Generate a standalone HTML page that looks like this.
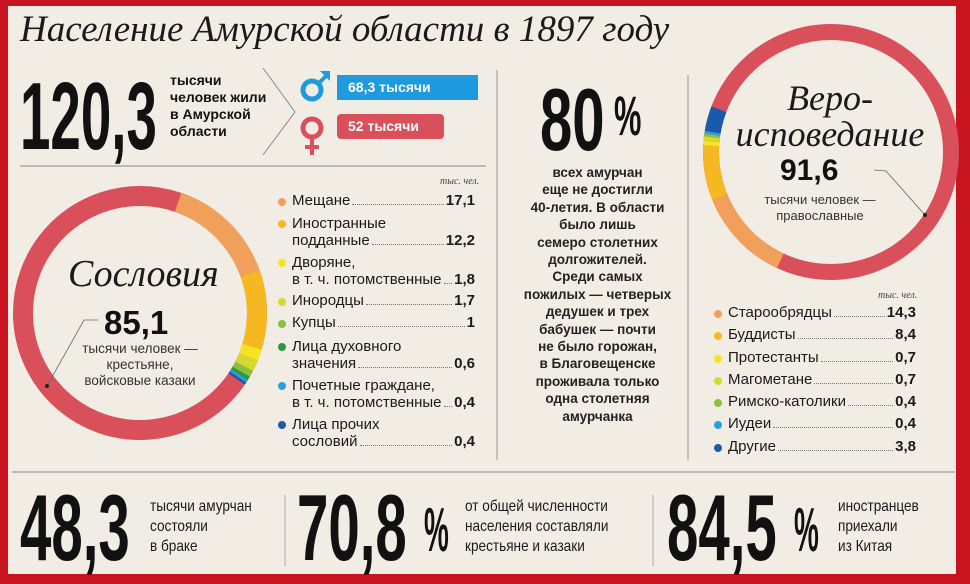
<!DOCTYPE html>
<html><head><meta charset="utf-8"><style>
*{margin:0;padding:0;box-sizing:border-box}
body{width:970px;height:584px;overflow:hidden;background:#c8141e;font-family:"Liberation Sans",sans-serif;color:#111}
#p{position:absolute;left:8px;top:6px;width:948px;height:568px;background:#f2ede4}
.a{position:absolute;white-space:nowrap}
.big{font-weight:bold;transform-origin:0 0;line-height:1}
.ser{font-family:"Liberation Serif",serif;font-style:italic;color:#1a1a1a}
.t{font-weight:bold;font-size:14px;line-height:17px}
.lg{position:absolute;font-size:15px;line-height:17px;color:#1a1a1a}
.lg .d{position:absolute;width:8px;height:8px;border-radius:50%;left:-14px;top:5px}
.row{position:absolute;display:flex;align-items:baseline;font-size:15px;color:#1a1a1a}
.dots{flex:1;border-bottom:1px dotted #777;margin:0 2px;height:1px}
.v{font-weight:bold}
.bt{position:absolute;font-size:16px;line-height:20px;transform:scaleX(.85);transform-origin:0 0;color:#1a1a1a}
</style></head><body>
<div id="p"></div>
<svg class="a" style="left:0;top:0" width="970" height="584">
<line x1="20" y1="166" x2="486" y2="166" stroke="#888" stroke-width="1"/>
<line x1="497" y1="70" x2="497" y2="460" stroke="#999" stroke-width="1"/>
<line x1="688" y1="75" x2="688" y2="460" stroke="#999" stroke-width="1"/>
<line x1="12" y1="472" x2="955" y2="472" stroke="#888" stroke-width="1"/>
<line x1="285" y1="495" x2="285" y2="566" stroke="#aaa"/>
<line x1="653" y1="495" x2="653" y2="566" stroke="#aaa"/>
<polyline points="263,68 295,112 263,155" fill="none" stroke="#888"/>
<g transform="rotate(-71 140 313)" fill="none" stroke-width="20">
<circle cx="140" cy="313" r="117" pathLength="120.3" stroke="#d9505a"/>
<circle cx="140" cy="313" r="117" pathLength="120.3" stroke="#f0a05a" stroke-dasharray="17.1 200"/>
<circle cx="140" cy="313" r="117" pathLength="120.3" stroke="#f5b820" stroke-dasharray="0 17.1 12.2 200"/>
<circle cx="140" cy="313" r="117" pathLength="120.3" stroke="#f5e420" stroke-dasharray="0 29.3 1.8 200"/>
<circle cx="140" cy="313" r="117" pathLength="120.3" stroke="#d4d830" stroke-dasharray="0 31.1 1.7 200"/>
<circle cx="140" cy="313" r="117" pathLength="120.3" stroke="#88c040" stroke-dasharray="0 32.8 1 200"/>
<circle cx="140" cy="313" r="117" pathLength="120.3" stroke="#2a9a40" stroke-dasharray="0 33.8 0.6 200"/>
<circle cx="140" cy="313" r="117" pathLength="120.3" stroke="#2aa0e0" stroke-dasharray="0 34.4 0.4 200"/>
<circle cx="140" cy="313" r="117" pathLength="120.3" stroke="#1a5aaa" stroke-dasharray="0 34.8 0.4 200"/>
</g>
<polyline points="98,320 84,320 47,386" fill="none" stroke="#666" stroke-width="0.8"/>
<circle cx="47" cy="386" r="2" fill="#222"/>
<g transform="rotate(115 831 152)" fill="none" stroke-width="16">
<circle cx="831" cy="152" r="120" pathLength="120.3" stroke="#d9505a"/>
<circle cx="831" cy="152" r="120" pathLength="120.3" stroke="#f0a05a" stroke-dasharray="14.3 200"/>
<circle cx="831" cy="152" r="120" pathLength="120.3" stroke="#f5b820" stroke-dasharray="0 14.3 8.4 200"/>
<circle cx="831" cy="152" r="120" pathLength="120.3" stroke="#f5e420" stroke-dasharray="0 22.7 0.7 200"/>
<circle cx="831" cy="152" r="120" pathLength="120.3" stroke="#d4d830" stroke-dasharray="0 23.4 0.7 200"/>
<circle cx="831" cy="152" r="120" pathLength="120.3" stroke="#88c040" stroke-dasharray="0 24.1 0.4 200"/>
<circle cx="831" cy="152" r="120" pathLength="120.3" stroke="#2aa0e0" stroke-dasharray="0 24.5 0.4 200"/>
<circle cx="831" cy="152" r="120" pathLength="120.3" stroke="#1a5aaa" stroke-dasharray="0 24.9 3.8 200"/>
</g>
<polyline points="874,170 886,171 925,215" fill="none" stroke="#666" stroke-width="0.8"/>
<circle cx="925" cy="215" r="2" fill="#222"/>
<circle cx="312" cy="90" r="9" fill="none" stroke="#1e9ae0" stroke-width="5"/>
<line x1="318" y1="84" x2="327" y2="75" stroke="#1e9ae0" stroke-width="4"/>
<polygon points="320,71 330,71 330,81" fill="#1e9ae0"/>
<rect x="337" y="75" width="141" height="25" fill="#1e9ae0"/>
<circle cx="312" cy="128" r="9" fill="none" stroke="#d9505a" stroke-width="5"/>
<line x1="312" y1="138" x2="312" y2="155" stroke="#d9505a" stroke-width="4"/>
<line x1="305" y1="147" x2="319" y2="147" stroke="#d9505a" stroke-width="4"/>
<rect x="337" y="114" width="107" height="25" rx="4" fill="#d9505a"/>
</svg>
<div class="a ser" style="left:20px;top:8px;font-size:37px;line-height:44px">Население Амурской области в 1897 году</div>
<div class="a big" style="left:20px;top:69px;font-size:96px;transform:scaleX(.57)">120,3</div>
<div class="a t" style="left:170px;top:72px">тысячи<br>человек жили<br>в Амурской<br>области</div>
<div class="a" style="left:348px;top:79px;color:#fff;font-weight:bold;font-size:14px">68,3 тысячи</div>
<div class="a" style="left:348px;top:118px;color:#fff;font-weight:bold;font-size:14px">52 тысячи</div>

<div class="a ser" style="left:68px;top:252px;font-size:38px">Сословия</div>
<div class="a" style="left:104px;top:304px;font-size:33px;font-weight:bold">85,1</div>
<div class="a" style="left:40px;top:341px;width:200px;text-align:center;font-size:13.5px;line-height:16px;color:#333">тысячи человек —<br>крестьяне,<br>войсковые казаки</div>

<div class="a ser" style="left:440px;top:176px;font-size:10px;color:#444">тыс. чел.</div>
<div class="lg" style="left:292px;top:193px"><span class="d" style="background:#f0a05a"></span></div>
<div class="row" style="left:292px;top:192px;width:183px">Мещане<span class="dots"></span><span class="v">17,1</span></div>
<div class="lg" style="left:292px;top:215px"><span class="d" style="background:#f5b820"></span>Иностранные</div>
<div class="row" style="left:292px;top:232px;width:183px">подданные<span class="dots"></span><span class="v">12,2</span></div>
<div class="lg" style="left:292px;top:254px"><span class="d" style="background:#f5e420"></span>Дворяне,</div>
<div class="row" style="left:292px;top:271px;width:183px">в т. ч. потомственные<span class="dots"></span><span class="v">1,8</span></div>
<div class="lg" style="left:292px;top:293px"><span class="d" style="background:#d4d830"></span></div>
<div class="row" style="left:292px;top:292px;width:183px">Инородцы<span class="dots"></span><span class="v">1,7</span></div>
<div class="lg" style="left:292px;top:315px"><span class="d" style="background:#88c040"></span></div>
<div class="row" style="left:292px;top:314px;width:183px">Купцы<span class="dots"></span><span class="v">1</span></div>
<div class="lg" style="left:292px;top:338px"><span class="d" style="background:#2a9a40"></span>Лица духовного</div>
<div class="row" style="left:292px;top:355px;width:183px">значения<span class="dots"></span><span class="v">0,6</span></div>
<div class="lg" style="left:292px;top:377px"><span class="d" style="background:#2aa0e0"></span>Почетные граждане,</div>
<div class="row" style="left:292px;top:394px;width:183px">в т. ч. потомственные<span class="dots"></span><span class="v">0,4</span></div>
<div class="lg" style="left:292px;top:416px"><span class="d" style="background:#1a5aaa"></span>Лица прочих</div>
<div class="row" style="left:292px;top:433px;width:183px">сословий<span class="dots"></span><span class="v">0,4</span></div>

<div class="a big" style="left:540px;top:76px;font-size:88px;transform:scaleX(.66)">80</div>
<div class="a big" style="left:614px;top:88px;font-size:56px;transform:scaleX(.55)">%</div>
<div class="a" style="left:500px;top:164px;width:195px;text-align:center;font-weight:bold;font-size:13.5px;line-height:17.4px;color:#222">всех амурчан<br>еще не достигли<br>40-летия. В области<br>было лишь<br>семеро столетних<br>долгожителей.<br>Среди самых<br>пожилых — четверых<br>дедушек и трех<br>бабушек — почти<br>не было горожан,<br>в Благовещенске<br>проживала только<br>одна столетняя<br>амурчанка</div>

<div class="a ser" style="left:730px;top:80px;width:200px;text-align:center;font-size:36px;line-height:36px">Веро-<br>исповедание</div>
<div class="a" style="left:780px;top:154px;font-size:30px;font-weight:bold">91,6</div>
<div class="a" style="left:740px;top:192px;width:160px;text-align:center;font-size:13px;line-height:16px;color:#333">тысячи человек —<br>православные</div>

<div class="a ser" style="left:878px;top:290px;font-size:10px;color:#444">тыс. чел.</div>
<div class="lg" style="left:728px;top:305px"><span class="d" style="background:#f0a05a"></span></div>
<div class="row" style="left:728px;top:304px;width:188px">Старообрядцы<span class="dots"></span><span class="v">14,3</span></div>
<div class="lg" style="left:728px;top:327px"><span class="d" style="background:#f5b820"></span></div>
<div class="row" style="left:728px;top:326px;width:188px">Буддисты<span class="dots"></span><span class="v">8,4</span></div>
<div class="lg" style="left:728px;top:350px"><span class="d" style="background:#f5e420"></span></div>
<div class="row" style="left:728px;top:349px;width:188px">Протестанты<span class="dots"></span><span class="v">0,7</span></div>
<div class="lg" style="left:728px;top:372px"><span class="d" style="background:#d4d830"></span></div>
<div class="row" style="left:728px;top:371px;width:188px">Магометане<span class="dots"></span><span class="v">0,7</span></div>
<div class="lg" style="left:728px;top:394px"><span class="d" style="background:#88c040"></span></div>
<div class="row" style="left:728px;top:393px;width:188px">Римско-католики<span class="dots"></span><span class="v">0,4</span></div>
<div class="lg" style="left:728px;top:416px"><span class="d" style="background:#2aa0e0"></span></div>
<div class="row" style="left:728px;top:415px;width:188px">Иудеи<span class="dots"></span><span class="v">0,4</span></div>
<div class="lg" style="left:728px;top:439px"><span class="d" style="background:#1a5aaa"></span></div>
<div class="row" style="left:728px;top:438px;width:188px">Другие<span class="dots"></span><span class="v">3,8</span></div>

<div class="a big" style="left:20px;top:481px;font-size:94px;transform:scaleX(.6)">48,3</div>
<div class="bt" style="left:150px;top:497px">тысячи амурчан<br>состояли<br>в браке</div>
<div class="a big" style="left:297px;top:481px;font-size:94px;transform:scaleX(.6)">70,8</div>
<div class="a big" style="left:424px;top:500px;font-size:62px;transform:scaleX(.45)">%</div>
<div class="bt" style="left:465px;top:497px">от общей численности<br>населения составляли<br>крестьяне и казаки</div>
<div class="a big" style="left:667px;top:481px;font-size:94px;transform:scaleX(.6)">84,5</div>
<div class="a big" style="left:794px;top:500px;font-size:62px;transform:scaleX(.45)">%</div>
<div class="bt" style="left:838px;top:497px">иностранцев<br>приехали<br>из Китая</div>
</body></html>
